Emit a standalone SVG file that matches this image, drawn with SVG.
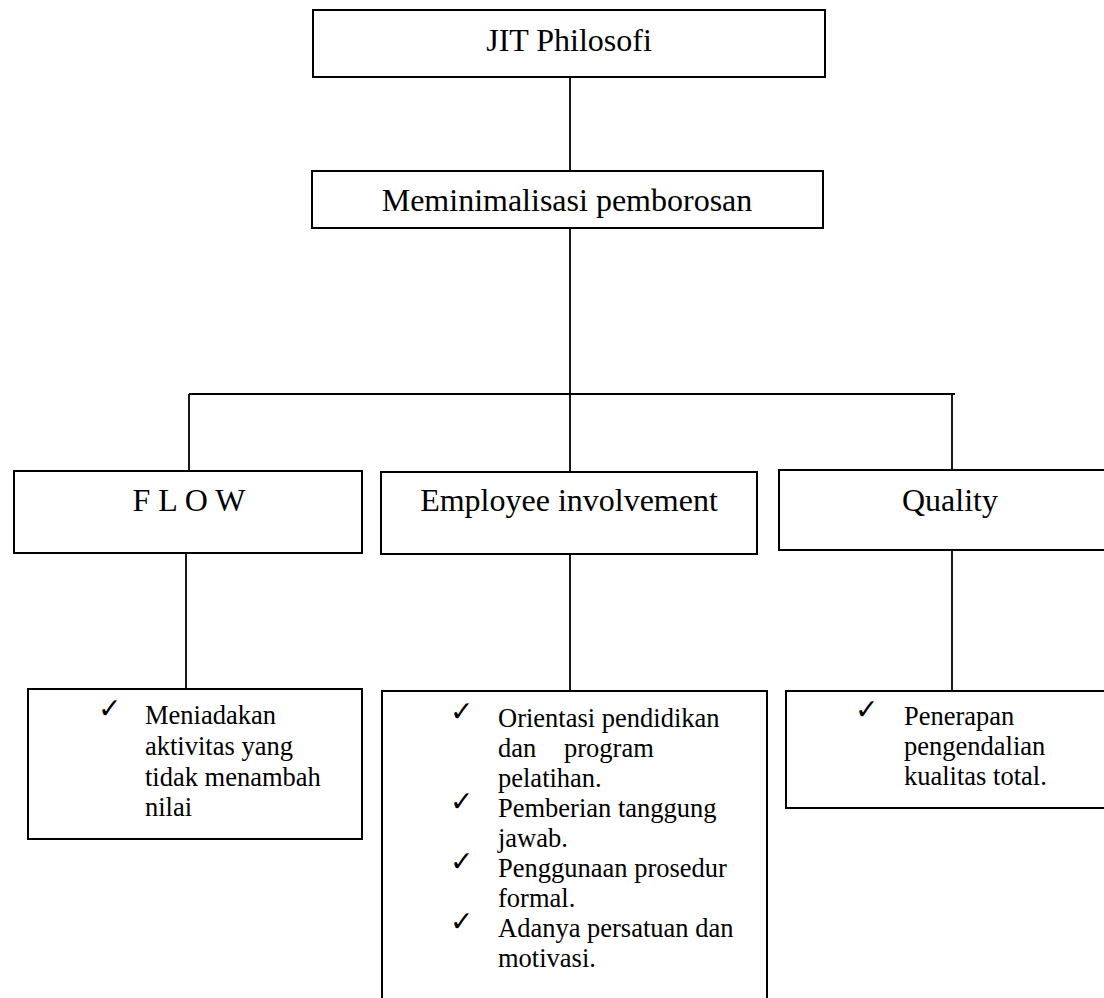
<svg xmlns="http://www.w3.org/2000/svg" width="1104" height="998" viewBox="0 0 1104 998">
<style>
.box{fill:#fff;stroke:#000;stroke-width:2}
.ln{stroke:#000;stroke-width:1.8;fill:none}
.h{font-family:"Liberation Serif","Times New Roman",serif;font-size:32px;fill:#000}
.b{font-family:"Liberation Serif","Times New Roman",serif;font-size:26.5px;fill:#000}
.ck{font-family:"DejaVu Sans",sans-serif;font-size:28px;fill:#000;font-weight:bold}
</style>
<rect width="1104" height="998" fill="#fff"/>
<g id="connectors">
<line class="ln" x1="570" y1="77" x2="570" y2="171"/>
<line class="ln" x1="570" y1="228" x2="570" y2="394"/>
<line class="ln" x1="189" y1="394" x2="955" y2="394"/>
<line class="ln" x1="189" y1="394" x2="189" y2="471"/>
<line class="ln" x1="570" y1="394" x2="570" y2="472"/>
<line class="ln" x1="952" y1="394" x2="952" y2="470"/>
<line class="ln" x1="186" y1="553" x2="186" y2="689"/>
<line class="ln" x1="570" y1="554" x2="570" y2="691"/>
<line class="ln" x1="952" y1="550" x2="952" y2="691"/>
</g>
<g id="jit">
<rect class="box" x="313" y="10" width="512" height="67"/>
<text class="h" x="569" y="51" text-anchor="middle">JIT Philosofi</text>
</g>
<g id="minimal">
<rect class="box" x="312" y="171" width="511" height="57"/>
<text class="h" x="567" y="211" text-anchor="middle">Meminimalisasi pemborosan</text>
</g>
<g id="flow">
<rect class="box" x="14" y="471" width="348" height="82"/>
<text class="h" x="189" y="511" text-anchor="middle">F L O W</text>
</g>
<g id="employee">
<rect class="box" x="381" y="472" width="376" height="82"/>
<text class="h" x="569" y="511" text-anchor="middle">Employee involvement</text>
</g>
<g id="quality">
<rect class="box" x="779" y="470" width="330" height="80"/>
<text class="h" x="950" y="511" text-anchor="middle">Quality</text>
</g>
<g id="flow-detail">
<rect class="box" x="28" y="689" width="334" height="150"/>
<text class="ck" x="98" y="718">✓</text>
<text class="b" x="145" y="724">Meniadakan</text>
<text class="b" x="145" y="755">aktivitas yang</text>
<text class="b" x="145" y="786">tidak menambah</text>
<text class="b" x="145" y="816">nilai</text>
</g>
<g id="employee-detail">
<rect class="box" x="382" y="691" width="385" height="320"/>
<text class="ck" x="450" y="721">✓</text>
<text class="b" x="498" y="727">Orientasi pendidikan</text>
<text class="b" x="498" y="757">dan</text>
<text class="b" x="564" y="757">program</text>
<text class="b" x="498" y="787">pelatihan.</text>
<text class="ck" x="450" y="811">✓</text>
<text class="b" x="498" y="817">Pemberian tanggung</text>
<text class="b" x="498" y="847">jawab.</text>
<text class="ck" x="450" y="871">✓</text>
<text class="b" x="498" y="877">Penggunaan prosedur</text>
<text class="b" x="498" y="907">formal.</text>
<text class="ck" x="450" y="931">✓</text>
<text class="b" x="498" y="937">Adanya persatuan dan</text>
<text class="b" x="498" y="967">motivasi.</text>
</g>
<g id="quality-detail">
<rect class="box" x="786" y="691" width="330" height="117"/>
<text class="ck" x="855" y="719">✓</text>
<text class="b" x="904" y="725">Penerapan</text>
<text class="b" x="904" y="755">pengendalian</text>
<text class="b" x="904" y="785">kualitas total.</text>
</g>
</svg>
